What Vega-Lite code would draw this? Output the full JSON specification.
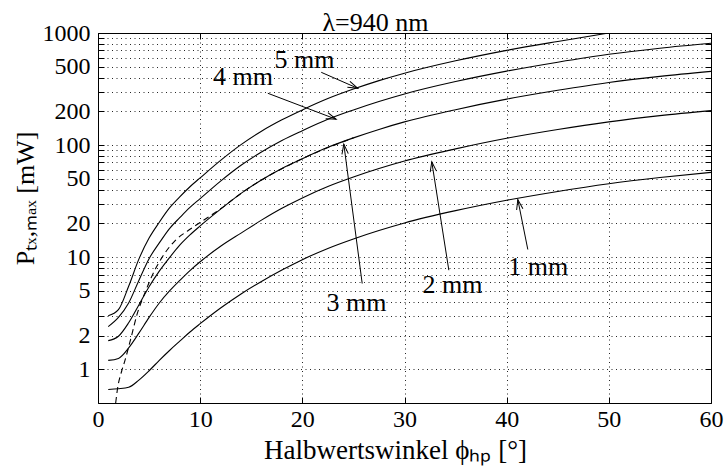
{
  "$schema": "https://vega.github.io/schema/vega-lite/v6.json",
  "width": 613,
  "height": 370,
  "autosize": {"type": "none"},
  "padding": {"left": 98, "top": 33, "right": 15, "bottom": 69},
  "background": "white",
  "config": {
    "font": "Liberation Serif",
    "view": {"stroke": "black", "strokeWidth": 1},
    "axis": {
      "labelFont": "Liberation Serif",
      "titleFont": "Liberation Serif",
      "labelColor": "black",
      "titleColor": "black",
      "titleFontWeight": "normal",
      "domain": false,
      "tickColor": "black",
      "gridColor": "black",
      "gridDash": [1, 3.5],
      "gridOpacity": 0.85,
      "gridWidth": 1
    }
  },
  "title": {
    "text": "λ=940 nm",
    "font": "Liberation Serif",
    "fontSize": 26,
    "fontWeight": "normal",
    "color": "black",
    "offset": -15,
    "dx": -29
  },
  "datasets": {
    "curves": [
      {"d": "5 mm", "x": 1, "y": 3.0}, {"d": "5 mm", "x": 2, "y": 3.4}, {"d": "5 mm", "x": 3, "y": 5.5}, {"d": "5 mm", "x": 4, "y": 9.6}, {"d": "5 mm", "x": 5, "y": 14.8}, {"d": "5 mm", "x": 6, "y": 20.5}, {"d": "5 mm", "x": 7, "y": 27.5}, {"d": "5 mm", "x": 8, "y": 34.5}, {"d": "5 mm", "x": 9, "y": 42.5}, {"d": "5 mm", "x": 10, "y": 51}, {"d": "5 mm", "x": 12, "y": 73}, {"d": "5 mm", "x": 14, "y": 101}, {"d": "5 mm", "x": 16, "y": 133}, {"d": "5 mm", "x": 18, "y": 168}, {"d": "5 mm", "x": 20, "y": 206}, {"d": "5 mm", "x": 22.5, "y": 260}, {"d": "5 mm", "x": 25, "y": 316}, {"d": "5 mm", "x": 27.5, "y": 376}, {"d": "5 mm", "x": 30, "y": 438}, {"d": "5 mm", "x": 35, "y": 565}, {"d": "5 mm", "x": 40, "y": 700}, {"d": "5 mm", "x": 45, "y": 841}, {"d": "5 mm", "x": 50, "y": 1000},
      {"d": "4 mm", "x": 1, "y": 2.4}, {"d": "4 mm", "x": 2, "y": 2.9}, {"d": "4 mm", "x": 3, "y": 3.9}, {"d": "4 mm", "x": 4, "y": 6.2}, {"d": "4 mm", "x": 5, "y": 9.7}, {"d": "4 mm", "x": 6, "y": 13.4}, {"d": "4 mm", "x": 7, "y": 18}, {"d": "4 mm", "x": 8, "y": 22.5}, {"d": "4 mm", "x": 9, "y": 27.8}, {"d": "4 mm", "x": 10, "y": 33.3}, {"d": "4 mm", "x": 12, "y": 47.7}, {"d": "4 mm", "x": 14, "y": 66}, {"d": "4 mm", "x": 16, "y": 86.8}, {"d": "4 mm", "x": 18, "y": 110}, {"d": "4 mm", "x": 20, "y": 134.5}, {"d": "4 mm", "x": 22.5, "y": 170}, {"d": "4 mm", "x": 25, "y": 206}, {"d": "4 mm", "x": 27.5, "y": 245}, {"d": "4 mm", "x": 30, "y": 286}, {"d": "4 mm", "x": 35, "y": 369}, {"d": "4 mm", "x": 40, "y": 457}, {"d": "4 mm", "x": 45, "y": 549}, {"d": "4 mm", "x": 50, "y": 646}, {"d": "4 mm", "x": 55, "y": 732}, {"d": "4 mm", "x": 60, "y": 810},
      {"d": "3 mm", "x": 1, "y": 1.8}, {"d": "3 mm", "x": 2, "y": 1.97}, {"d": "3 mm", "x": 3, "y": 2.6}, {"d": "3 mm", "x": 4, "y": 3.75}, {"d": "3 mm", "x": 5, "y": 5.45}, {"d": "3 mm", "x": 6, "y": 7.5}, {"d": "3 mm", "x": 7, "y": 9.9}, {"d": "3 mm", "x": 8, "y": 12.8}, {"d": "3 mm", "x": 9, "y": 15.8}, {"d": "3 mm", "x": 10, "y": 19}, {"d": "3 mm", "x": 12, "y": 26.8}, {"d": "3 mm", "x": 14, "y": 37.1}, {"d": "3 mm", "x": 16, "y": 48.8}, {"d": "3 mm", "x": 18, "y": 61.8}, {"d": "3 mm", "x": 20, "y": 75.6}, {"d": "3 mm", "x": 22.5, "y": 95.5}, {"d": "3 mm", "x": 25, "y": 116}, {"d": "3 mm", "x": 27.5, "y": 138}, {"d": "3 mm", "x": 30, "y": 161}, {"d": "3 mm", "x": 35, "y": 207}, {"d": "3 mm", "x": 40, "y": 257}, {"d": "3 mm", "x": 45, "y": 308}, {"d": "3 mm", "x": 50, "y": 362}, {"d": "3 mm", "x": 55, "y": 410}, {"d": "3 mm", "x": 60, "y": 455},
      {"d": "2 mm", "x": 1, "y": 1.2}, {"d": "2 mm", "x": 2, "y": 1.25}, {"d": "2 mm", "x": 3, "y": 1.55}, {"d": "2 mm", "x": 4, "y": 2.1}, {"d": "2 mm", "x": 5, "y": 2.9}, {"d": "2 mm", "x": 6, "y": 3.9}, {"d": "2 mm", "x": 7, "y": 5.0}, {"d": "2 mm", "x": 8, "y": 6.2}, {"d": "2 mm", "x": 9, "y": 7.6}, {"d": "2 mm", "x": 10, "y": 9.1}, {"d": "2 mm", "x": 12, "y": 12.5}, {"d": "2 mm", "x": 14, "y": 16.4}, {"d": "2 mm", "x": 16, "y": 21.4}, {"d": "2 mm", "x": 18, "y": 27.3}, {"d": "2 mm", "x": 20, "y": 33.8}, {"d": "2 mm", "x": 22.5, "y": 42.7}, {"d": "2 mm", "x": 25, "y": 51.9}, {"d": "2 mm", "x": 27.5, "y": 61.7}, {"d": "2 mm", "x": 30, "y": 72}, {"d": "2 mm", "x": 35, "y": 92.5}, {"d": "2 mm", "x": 40, "y": 115}, {"d": "2 mm", "x": 45, "y": 137.7}, {"d": "2 mm", "x": 50, "y": 161}, {"d": "2 mm", "x": 55, "y": 183}, {"d": "2 mm", "x": 60, "y": 203},
      {"d": "1 mm", "x": 1, "y": 0.66}, {"d": "1 mm", "x": 2, "y": 0.67}, {"d": "1 mm", "x": 3, "y": 0.69}, {"d": "1 mm", "x": 4, "y": 0.8}, {"d": "1 mm", "x": 5, "y": 0.97}, {"d": "1 mm", "x": 6, "y": 1.2}, {"d": "1 mm", "x": 7, "y": 1.47}, {"d": "1 mm", "x": 8, "y": 1.78}, {"d": "1 mm", "x": 9, "y": 2.15}, {"d": "1 mm", "x": 10, "y": 2.55}, {"d": "1 mm", "x": 12, "y": 3.52}, {"d": "1 mm", "x": 14, "y": 4.7}, {"d": "1 mm", "x": 16, "y": 6.07}, {"d": "1 mm", "x": 18, "y": 7.67}, {"d": "1 mm", "x": 20, "y": 9.5}, {"d": "1 mm", "x": 22.5, "y": 11.97}, {"d": "1 mm", "x": 25, "y": 14.55}, {"d": "1 mm", "x": 27.5, "y": 17.3}, {"d": "1 mm", "x": 30, "y": 20.2}, {"d": "1 mm", "x": 35, "y": 26}, {"d": "1 mm", "x": 40, "y": 32.2}, {"d": "1 mm", "x": 45, "y": 38.6}, {"d": "1 mm", "x": 50, "y": 45.2}, {"d": "1 mm", "x": 55, "y": 51.3}, {"d": "1 mm", "x": 60, "y": 57.1}
    ],
    "dashed": [
      {"x": 1.73, "y": 0.5}, {"x": 1.92, "y": 0.68}, {"x": 2.3, "y": 0.95}, {"x": 2.64, "y": 1.2}, {"x": 3.29, "y": 2.0}, {"x": 3.78, "y": 3.0}, {"x": 4.59, "y": 4.8}, {"x": 5.41, "y": 7.2}, {"x": 6.22, "y": 9.8}, {"x": 7.53, "y": 14.0}, {"x": 8.83, "y": 17.3}, {"x": 10, "y": 20.4}, {"x": 12, "y": 27}, {"x": 14, "y": 37.1}, {"x": 16, "y": 48.8}, {"x": 20, "y": 75.6}, {"x": 25, "y": 116}
    ],
    "labels": [
      {"t": "5 mm", "x": 20.2, "y": 574},
      {"t": "4 mm", "x": 14.2, "y": 405},
      {"t": "3 mm", "x": 25.3, "y": 3.88},
      {"t": "2 mm", "x": 34.7, "y": 5.62},
      {"t": "1 mm", "x": 43.1, "y": 8.14}
    ],
    "arrows": [
      {"t": "5 mm", "x": 21.85, "y": 446, "x2": 25.43, "y2": 321},
      {"t": "4 mm", "x": 16.62, "y": 290, "x2": 23.31, "y2": 170},
      {"t": "3 mm", "x": 25.86, "y": 5.82, "x2": 24.06, "y2": 102},
      {"t": "2 mm", "x": 34.34, "y": 7.65, "x2": 32.67, "y2": 71},
      {"t": "1 mm", "x": 42.07, "y": 11.7, "x2": 41.09, "y2": 32.7}
    ]
  },
  "resolve": {"axis": {"x": "independent", "y": "independent"}},
  "layer": [
    {
      "data": {"name": "curves"},
      "mark": {"type": "line", "color": "black", "strokeWidth": 1.1, "interpolate": "monotone", "clip": true},
      "encoding": {
        "x": {
          "field": "x", "type": "quantitative",
          "scale": {"domain": [0, 60], "nice": false, "zero": false},
          "axis": {
            "values": [0, 10, 20, 30, 40, 50, 60],
            "grid": true,
            "tickSize": -6,
            "labelFontSize": 24,
            "labelPadding": 10,
            "labelFlush": false,
            "title": "Halbwertswinkel ϕₕₚ [°]",
            "titleFontSize": 27,
            "titlePadding": 6,
            "titleX": 297
          }
        },
        "y": {
          "field": "y", "type": "quantitative",
          "scale": {"type": "log", "domain": [0.5, 1000], "nice": false},
          "axis": {
            "values": [1, 2, 3, 4, 5, 6, 7, 8, 9, 10, 20, 30, 40, 50, 60, 70, 80, 90, 100, 200, 300, 400, 500, 600, 700, 800, 900, 1000],
            "grid": true,
            "tickSize": -6,
            "labelFontSize": 24,
            "labelPadding": 14,
            "labelOverlap": false,
            "labelFlush": false,
            "labelBound": false,
            "labelExpr": "indexof([1,2,5,10,20,50,100,200,500,1000], datum.value) >= 0 ? format(datum.value, 'd') : ''",
            "title": "Pₜₓ,ₘₐₓ [mW]",
            "titleFontSize": 26,
            "titlePadding": 4,
            "titleY": 165
          }
        },
        "detail": {"field": "d", "type": "nominal"}
      }
    },
    {
      "data": {"name": "dashed"},
      "mark": {"type": "line", "color": "black", "strokeWidth": 1.1, "strokeDash": [6, 4], "interpolate": "monotone", "clip": true},
      "encoding": {
        "x": {
          "field": "x", "type": "quantitative",
          "scale": {"domain": [0, 60], "nice": false, "zero": false},
          "axis": {"orient": "top", "values": [0, 10, 20, 30, 40, 50, 60], "grid": false, "labels": false, "tickSize": -6, "title": null}
        },
        "y": {
          "field": "y", "type": "quantitative",
          "scale": {"type": "log", "domain": [0.5, 1000], "nice": false},
          "axis": {"orient": "right", "values": [1, 2, 3, 4, 5, 6, 7, 8, 9, 10, 20, 30, 40, 50, 60, 70, 80, 90, 100, 200, 300, 400, 500, 600, 700, 800, 900, 1000], "grid": false, "labels": false, "tickSize": -6, "title": null}
        }
      }
    },
    {
      "data": {"name": "arrows"},
      "mark": {"type": "rule", "color": "black", "strokeWidth": 1},
      "encoding": {
        "x": {"field": "x", "type": "quantitative", "scale": {"domain": [0, 60], "nice": false, "zero": false}, "axis": null},
        "y": {"field": "y", "type": "quantitative", "scale": {"type": "log", "domain": [0.5, 1000], "nice": false}, "axis": null},
        "x2": {"field": "x2"},
        "y2": {"field": "y2"}
      }
    },
    {
      "data": {"name": "arrows"},
      "transform": [
        {"calculate": "atan2((datum.x2 - datum.x) * 10.22, (log(datum.y2) - log(datum.y)) / LN10 * 112) * 180 / PI", "as": "ang"}
      ],
      "mark": {"type": "point", "shape": "M -0.32 1 L 0 0 L 0.32 1", "filled": false, "stroke": "black", "strokeWidth": 1, "size": 400, "opacity": 1},
      "encoding": {
        "x": {"field": "x2", "type": "quantitative", "scale": {"domain": [0, 60], "nice": false, "zero": false}, "axis": null},
        "y": {"field": "y2", "type": "quantitative", "scale": {"type": "log", "domain": [0.5, 1000], "nice": false}, "axis": null},
        "angle": {"field": "ang", "type": "quantitative", "scale": null}
      }
    },
    {
      "data": {"name": "labels"},
      "mark": {"type": "text", "font": "Liberation Serif", "fontSize": 26, "color": "black", "align": "center", "baseline": "middle"},
      "encoding": {
        "x": {"field": "x", "type": "quantitative", "scale": {"domain": [0, 60], "nice": false, "zero": false}, "axis": null},
        "y": {"field": "y", "type": "quantitative", "scale": {"type": "log", "domain": [0.5, 1000], "nice": false}, "axis": null},
        "text": {"field": "t", "type": "nominal"}
      }
    }
  ]
}
